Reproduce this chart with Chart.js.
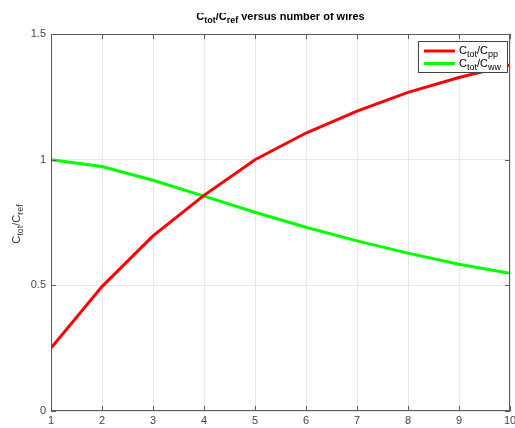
<!DOCTYPE html>
<html>
<head>
<meta charset="utf-8">
<script src="https://cdn.jsdelivr.net/npm/chart.js@4/dist/chart.umd.min.js"></script>
<style>
html,body{margin:0;padding:0;background:#fff;}
#wrap{position:relative;width:515px;height:428px;}
</style>
</head>
<body>
<div id="wrap"><canvas id="c" width="515" height="428"></canvas></div>
<script>
const nWires = [1, 2, 3, 4, 5, 6, 7, 8, 9, 10];
const ratioPP = [0.25, 0.495, 0.697, 0.858, 1.0, 1.106, 1.193, 1.268, 1.327, 1.377];
const ratioWW = [1.0, 0.973, 0.918, 0.855, 0.791, 0.731, 0.677, 0.628, 0.584, 0.548];
const yTicks = [0, 0.5, 1, 1.5];
const xTicks = nWires;

const FONT = '"Liberation Sans", Arial, Helvetica, sans-serif';

function drawRich(ctx, parts, x, y, size, weight, align, color) {
  const subSize = Math.round(size * 0.78);
  let total = 0;
  parts.forEach(p => {
    ctx.font = weight + ' ' + (p.sub ? subSize : size) + 'px ' + FONT;
    p.w = ctx.measureText(p.t).width;
    total += p.w;
  });
  let cx = align === 'center' ? x - total / 2 : (align === 'right' ? x - total : x);
  ctx.fillStyle = color;
  ctx.textBaseline = 'alphabetic';
  ctx.textAlign = 'left';
  parts.forEach(p => {
    ctx.font = weight + ' ' + (p.sub ? subSize : size) + 'px ' + FONT;
    ctx.fillText(p.t, cx, y + (p.sub ? size * 0.3 : 0));
    cx += p.w;
  });
  return total;
}

const decor = {
  id: 'decor',
  afterDraw(chart) {
    const ctx = chart.ctx;
    const a = chart.chartArea;
    const xs = chart.scales.x, ys = chart.scales.y;
    ctx.save();
    // box
    ctx.strokeStyle = '#5a5a5a';
    ctx.lineWidth = 1;
    ctx.strokeRect(a.left + 0.5, a.top + 0.5, a.right - a.left - 1, a.bottom - a.top - 1);
    // inward ticks
    ctx.beginPath();
    xTicks.forEach(v => {
      const px = Math.round(xs.getPixelForValue(v)) + 0.5;
      ctx.moveTo(px, a.bottom); ctx.lineTo(px, a.bottom - 5);
      ctx.moveTo(px, a.top); ctx.lineTo(px, a.top + 5);
    });
    yTicks.forEach(v => {
      const py = Math.round(ys.getPixelForValue(v)) + 0.5;
      ctx.moveTo(a.left, py); ctx.lineTo(a.left + 5, py);
      ctx.moveTo(a.right, py); ctx.lineTo(a.right - 5, py);
    });
    ctx.stroke();

    // title (clipped at top like reference)
    ctx.save();
    ctx.beginPath();
    ctx.rect(0, 13, chart.width, 30);
    ctx.clip();
    drawRich(ctx, [{t:'C'},{t:'tot',sub:true},{t:'/C'},{t:'ref',sub:true},{t:' versus number of wires'}],
      (a.left + a.right) / 2, 20, 11, 'bold', 'center', '#000');
    ctx.restore();

    // y-axis title
    ctx.save();
    ctx.translate(20, 224);
    ctx.rotate(-Math.PI / 2);
    drawRich(ctx, [{t:'C'},{t:'tot',sub:true},{t:'/C'},{t:'ref',sub:true}], 0, 0, 11, 'normal', 'center', '#333');
    ctx.restore();

    // legend
    const lx = 418, ly = 41, lw = 89, lh = 31;
    ctx.fillStyle = '#fff';
    ctx.fillRect(lx, ly, lw, lh);
    ctx.strokeStyle = '#444';
    ctx.lineWidth = 1;
    ctx.strokeRect(lx + 0.5, ly + 0.5, lw, lh);
    const items = [
      {c: chart.data.datasets[0].borderColor, parts: [{t:'C'},{t:'tot',sub:true},{t:'/C'},{t:'pp',sub:true}]},
      {c: chart.data.datasets[1].borderColor, parts: [{t:'C'},{t:'tot',sub:true},{t:'/C'},{t:'ww',sub:true}]}
    ];
    items.forEach((it, i) => {
      const yy = ly + 10 + i * 12.5;
      ctx.strokeStyle = it.c;
      ctx.lineWidth = 3;
      ctx.beginPath();
      ctx.moveTo(lx + 6, yy); ctx.lineTo(lx + 37, yy);
      ctx.stroke();
      drawRich(ctx, it.parts, lx + 41, yy + 3, 11, 'normal', 'left', '#000');
    });
    ctx.restore();
  }
};

new Chart(document.getElementById('c'), {
  type: 'line',
  data: {
    datasets: [
      {
        label: 'Ctot/Cpp',
        data: nWires.map((n, i) => ({x: n, y: ratioPP[i]})),
        borderColor: '#ff0000',
        borderWidth: 3,
        pointRadius: 0,
        tension: 0,
        fill: false
      },
      {
        label: 'Ctot/Cww',
        data: nWires.map((n, i) => ({x: n, y: ratioWW[i]})),
        borderColor: '#00ff00',
        borderWidth: 3,
        pointRadius: 0,
        tension: 0,
        fill: false
      }
    ]
  },
  options: {
    responsive: false,
    animation: false,
    layout: {padding: {top: 34, right: 5, left: 0, bottom: 0}},
    plugins: {legend: {display: false}, title: {display: false}, tooltip: {enabled: false}},
    scales: {
      x: {
        type: 'linear',
        min: 1, max: 10,
        afterBuildTicks: s => { s.ticks = xTicks.map(v => ({value: v})); },
        afterFit: s => { s.height = 17; s.paddingRight = 0; s.paddingLeft = 0; },
        grid: {color: '#e6e6e6', drawTicks: false},
        border: {display: false},
        ticks: {padding: 3, color: '#444', font: {family: FONT, size: 11}, maxRotation: 0, autoSkip: false,
          callback: v => String(v)}
      },
      y: {
        type: 'linear',
        min: 0, max: 1.5,
        afterBuildTicks: s => { s.ticks = yTicks.map(v => ({value: v})); },
        afterFit: s => { s.width = 51; s.paddingTop = 0; s.paddingBottom = 0; },
        grid: {color: '#e6e6e6', drawTicks: false},
        border: {display: false},
        ticks: {padding: 5, color: '#444', font: {family: FONT, size: 11},
          callback: v => String(v)}
      }
    }
  },
  plugins: [decor]
});
</script>
</body>
</html>
